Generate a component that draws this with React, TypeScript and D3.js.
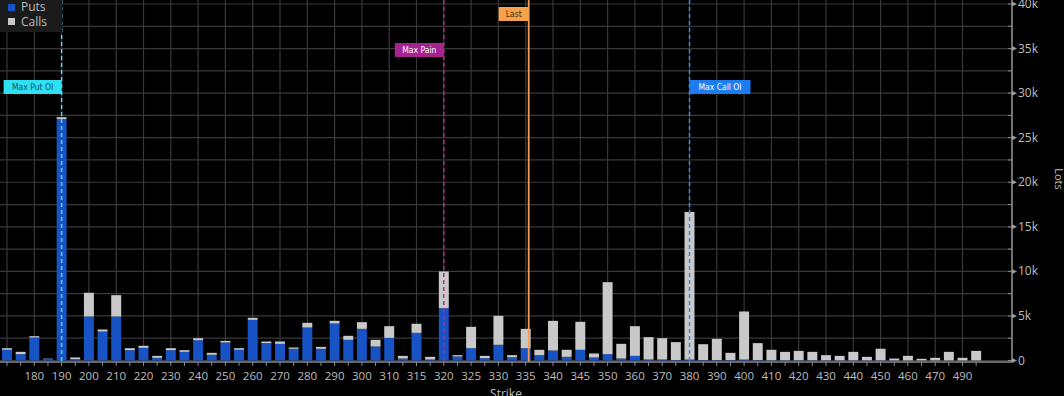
import React from 'react';
import * as d3 from 'd3';

// strikes (bands), puts / calls open interest in lots
const strikes = [
  170, 175, 180, 185, 190, 195, 200, 205, 210, 215, 220, 225, 230, 235, 240, 245, 250, 255,
  260, 265, 270, 275, 280, 285, 290, 295, 300, 305, 310, 312.5, 315, 317.5, 320, 322.5, 325,
  327.5, 330, 332.5, 335, 337.5, 340, 342.5, 345, 347.5, 350, 355, 360, 365, 370, 375, 380,
  385, 390, 395, 400, 405, 410, 415, 420, 425, 430, 435, 440, 445, 450, 455, 460, 465, 470,
  480, 490, 500,
];
const puts = [
  1200, 710, 2580, 220, 27100, 150, 4940, 3250, 4940, 1160, 1420, 300, 1160, 970, 2280, 640, 2020, 1200,
  4560, 1950, 1870, 1310, 3700, 1310, 4150, 2320, 3550, 1570, 2540, 220, 3100, 110, 5870, 450, 1380,
  260, 1760, 370, 1380, 600, 1120, 410, 1200, 340, 710, 220, 520, 110, 110, 50, 100,
  50, 50, 50, 100, 50, 30, 30, 30, 30, 20, 20, 20, 20, 20, 10, 10, 10, 10,
  10, 10, 10,
];
const calls = [
  180, 260, 150, 20, 200, 190, 2660, 230, 2390, 220, 230, 220, 220, 190, 220, 220, 180, 180,
  230, 180, 260, 150, 530, 220, 300, 450, 750, 750, 1310, 300, 1020, 300, 4120, 150, 2400,
  260, 3250, 230, 2170, 600, 3330, 790, 3140, 450, 8080, 1650, 3330, 2510, 2390, 2010, 16570,
  1780, 2380, 810, 5400, 1900, 1170, 940, 1050, 940, 580, 500, 950, 390, 1300, 210, 510, 180, 290,
  960, 290, 1070,
];
const yTicks = [0, 5000, 10000, 15000, 20000, 25000, 30000, 35000, 40000];

const maxPutStrike = 190;
const maxPainStrike = 320;
const maxCallStrike = 380;
const lastPrice = 335.55;

const W = 1064;
const H = 396;
const plotRight = 1012;
const axisY = 362;
const txt = '#bdbdbd';
const grid = '#383838';
const font = "'Open Sans', 'Liberation Sans', sans-serif";

export default function App() {
  const step = 13.65;
  const x = d3.scaleBand<number>()
    .domain(strikes)
    .range([0.18, 0.18 + step * strikes.length])
    .paddingInner(0.27)
    .paddingOuter(0.135);
  const y = d3.scaleLinear().domain([0, 40000]).range([360.5, 4]);
  const cx = (s: number) => (x(s) ?? 0) + x.bandwidth() / 2;
  // continuous position for a price between strikes
  const px = d3.scaleLinear().domain(strikes).range(strikes.map(cx));

  const rows = strikes.map((s, i) => ({ strike: s, puts: puts[i], calls: calls[i] }));
  const stack = d3.stack<any>().keys(['puts', 'calls'])(rows);
  const colors = ['#1753c4', '#c9c9c9'];

  const minor = d3.range(0, 40001, 2500);
  const gridStrikes = strikes.filter((_, i) => i % 2 === 0);
  // first label is hidden behind the plot edge in the original
  const labelled = gridStrikes.slice(1);

  const marker = (
    s: number, color: string, dash: string | undefined, label: string, boxColor: string,
    textColor: string, boxY: number, boxW: number, side: 'left' | 'right', width = 1.5,
  ) => {
    const lx = px(s);
    const bx = side === 'left' ? lx - boxW : lx;
    return (
      <g key={label}>
        <line x1={lx} x2={lx} y1={0} y2={axisY} stroke={color} strokeWidth={width} strokeDasharray={dash} />
        <rect x={bx} y={boxY} width={boxW} height={14} fill={boxColor} />
        <text x={bx + boxW / 2} y={boxY + 10} textAnchor="middle" fontSize={8.5} fill={textColor}
          fontFamily="'DejaVu Sans Condensed', 'DejaVu Sans', sans-serif">{label}</text>
      </g>
    );
  };

  return (
    <svg width={W} height={H} style={{ position: 'fixed', left: 0, top: 0, background: '#000' }}>
      <rect width={W} height={H} fill="#000" />
      {/* grid */}
      {minor.map(v => (
        <line key={'h' + v} x1={0} x2={plotRight} y1={y(v)} y2={y(v)} stroke={grid} strokeWidth={1.2} />
      ))}
      {gridStrikes.map(s => (
        <line key={'v' + s} x1={cx(s)} x2={cx(s)} y1={0} y2={axisY} stroke={grid} strokeWidth={1.2} />
      ))}

      {/* bars */}
      {stack.map((layer, li) => (
        <g key={li} fill={colors[li]}>
          {layer.map((d: any) => (
            <rect key={d.data.strike} x={x(d.data.strike)} width={x.bandwidth()}
              y={y(d[1])} height={Math.max(0, y(d[0]) - y(d[1]))} />
          ))}
        </g>
      ))}

      {/* markers */}
      {marker(maxPutStrike, '#5cd3f2', '4,3', 'Max Put OI', '#2fe0f2', '#14505e', 80, 58, 'left')}
      {marker(maxPainStrike, '#b02a92', '4,3', 'Max Pain', '#a6228f', '#ffffff', 43, 49, 'left')}
      {marker(lastPrice, '#f29a5c', undefined, 'Last', '#f6a24a', '#4a2a08', 7, 30, 'left', 1.8)}
      {marker(maxCallStrike, '#3f82e6', '4,3', 'Max Call OI', '#1d7cf0', '#ffffff', 80, 61, 'right')}

      {/* x axis */}
      <line x1={0} x2={plotRight} y1={axisY} y2={axisY} stroke="#8a8a8a" strokeWidth={1.5} />
      {strikes.map(s => (
        <line key={'t' + s} x1={cx(s)} x2={cx(s)} y1={axisY} y2={axisY + 4} stroke="#8a8a8a" />
      ))}
      {labelled.map(s => (
        <text key={'l' + s} x={cx(s)} y={380} textAnchor="middle" fontSize={11.5} fill={txt} fontFamily={font}>
          {s}
        </text>
      ))}
      <text x={506} y={398} textAnchor="middle" fontSize={12} fill={txt} fontFamily={font}>Strike</text>

      {/* y axis (right) */}
      <line x1={plotRight} x2={plotRight} y1={0} y2={axisY} stroke="#bdbdbd" strokeWidth={1.2} />
      {minor.map(v => (
        <line key={'m' + v} x1={plotRight - 4} x2={plotRight} y1={y(v)} y2={y(v)} stroke="#8a8a8a" />
      ))}
      {yTicks.map(v => (
        <g key={'y' + v}>
          <path d={`M${plotRight},${y(v) - 2.5}L${plotRight + 5},${y(v)}L${plotRight},${y(v) + 2.5}Z`} fill="#9a9a9a" />
          <text x={plotRight + 6} y={y(v) + 4} fontSize={12} fill={txt} fontFamily={font}>
            {v === 0 ? '0' : `${v / 1000}k`}
          </text>
        </g>
      ))}
      <text transform="translate(1055,179) rotate(90)" textAnchor="middle" fontSize={11} fill={txt} fontFamily={font}>
        Lots
      </text>

      {/* legend */}
      <rect x={0} y={0} width={62} height={32} fill="#1b1b1b" />
      <rect x={8} y={4} width={7} height={7} fill={colors[0]} />
      <text x={21} y={11} fontSize={12} fill={txt} fontFamily={font}>Puts</text>
      <rect x={8} y={18} width={7} height={7} fill={colors[1]} />
      <text x={21} y={26} fontSize={12} fill={txt} fontFamily={font}>Calls</text>
    </svg>
  );
}
